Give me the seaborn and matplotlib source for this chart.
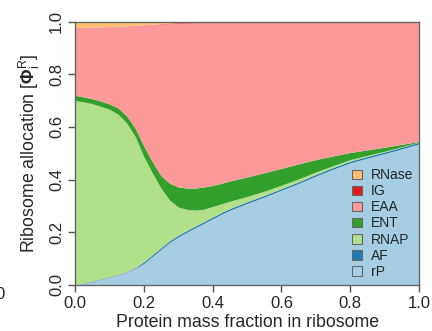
import numpy as np
import matplotlib
matplotlib.use("Agg")
import matplotlib.pyplot as plt
import seaborn as sns
from matplotlib.patches import Patch

# protein mass fraction in ribosome
frac = [0.0, 0.025, 0.05, 0.075, 0.1, 0.125, 0.15, 0.175, 0.2, 0.225,
        0.25, 0.275, 0.3, 0.325, 0.35, 0.375, 0.4, 0.425, 0.45,
        0.5, 0.55, 0.6, 0.65, 0.7, 0.75, 0.8, 0.85, 0.9, 0.95, 1.0]

# allocation of each group
rP = [0.0, 0.005, 0.013, 0.021, 0.029, 0.038, 0.048, 0.063, 0.082, 0.109,
      0.136, 0.162, 0.183, 0.201, 0.218, 0.235, 0.252, 0.269, 0.284,
      0.310, 0.334, 0.360, 0.386, 0.414, 0.440, 0.464, 0.482, 0.499, 0.517, 0.536]
AF = [0.0, 0.002, 0.002, 0.002, 0.002, 0.002, 0.002, 0.003, 0.006, 0.006,
      0.006, 0.006, 0.006, 0.006, 0.006, 0.006, 0.006, 0.006, 0.006,
      0.006, 0.006, 0.006, 0.006, 0.006, 0.006, 0.006, 0.006, 0.006, 0.006, 0.006]
RNAP = [0.70, 0.688, 0.673, 0.655, 0.636, 0.608, 0.565, 0.497, 0.399, 0.31,
        0.225, 0.154, 0.107, 0.08, 0.06, 0.047, 0.04, 0.033, 0.028,
        0.02, 0.016, 0.013, 0.011, 0.009, 0.007, 0.006, 0.004, 0.003, 0.002, 0.001]
ENT = [0.02, 0.019, 0.019, 0.02, 0.02, 0.024, 0.027, 0.032, 0.04, 0.042,
       0.048, 0.064, 0.076, 0.081, 0.084, 0.084, 0.08, 0.078, 0.077,
       0.074, 0.07, 0.064, 0.057, 0.047, 0.037, 0.027, 0.021, 0.015, 0.009, 0.002]
IG = [0.0, 0.0, 0.0, 0.0, 0.0, 0.0, 0.0, 0.0, 0.0, 0.0,
      0.001, 0.002, 0.002, 0.002, 0.002, 0.002, 0.002, 0.002, 0.002,
      0.002, 0.002, 0.002, 0.002, 0.002, 0.002, 0.002, 0.002, 0.002, 0.002, 0.002]
RNase = [0.022, 0.022, 0.021, 0.02, 0.019, 0.018, 0.016, 0.014, 0.012, 0.01,
         0.008, 0.006, 0.004, 0.003, 0.002, 0.001, 0.0, 0.0, 0.0,
         0.0, 0.0, 0.0, 0.0, 0.0, 0.0, 0.0, 0.0, 0.0, 0.0, 0.0]
# EAA fills the remainder up to 1
EAA = list(1.0 - np.sum([rP, AF, RNAP, ENT, IG, RNase], axis=0))

groups = ["rP", "AF", "RNAP", "ENT", "EAA", "IG", "RNase"]
ticks = [0.0, 0.2, 0.4, 0.6, 0.8, 1.0]

sns.set_theme(style="ticks")
plt.rcParams.update({
    "font.family": ["Liberation Sans", "DejaVu Sans"],
    "mathtext.fontset": "custom",
    "mathtext.rm": "Liberation Sans",
    "mathtext.it": "Liberation Sans:italic",
    "mathtext.bf": "Liberation Sans:bold",
})

colors = sns.color_palette("Paired", 7)

fig = plt.figure(figsize=(4.32, 3.31), dpi=100)
ax = fig.add_axes([0.1736, 0.139, 0.7967, 0.796])

ax.stackplot(frac, rP, AF, RNAP, ENT, EAA, IG, RNase,
             colors=colors, linewidth=0)

ax.set_xlim(0, 1)
ax.set_ylim(0, 1)
ax.set_xticks(ticks)
ax.set_yticks(ticks)
ax.set_xticklabels([f"{t:.1f}" for t in ticks])
ax.set_yticklabels([f"{t:.1f}" for t in ticks], rotation=90, va="center")
ax.tick_params(axis="both", direction="out", length=5, width=1,
               color="#555555", labelsize=12, pad=3)

for spine in ax.spines.values():
    spine.set_color("#666666")
    spine.set_linewidth(1.0)

ax.set_xlabel("Protein mass fraction in ribosome", fontsize=12.8, labelpad=2)
ax.set_ylabel(r"Ribosome allocation [$\mathbf{\Phi}_\mathrm{i}^\mathrm{R}$]",
              fontsize=12.8, labelpad=5)

handles = [Patch(facecolor=colors[i], edgecolor="#666666", linewidth=0.8)
           for i in range(len(groups))][::-1]
ax.legend(handles, groups[::-1], loc="upper right",
          bbox_to_anchor=(1.01, 0.48), frameon=False, fontsize=10,
          handlelength=0.7, handleheight=0.7, handletextpad=0.6,
          labelspacing=0.15, borderaxespad=0.3)

# clipped tick label from the neighbouring panel
fig.text(0.0, 0.109, "0", ha="center", va="center", fontsize=12)

fig.savefig("out.png", dpi=100)
